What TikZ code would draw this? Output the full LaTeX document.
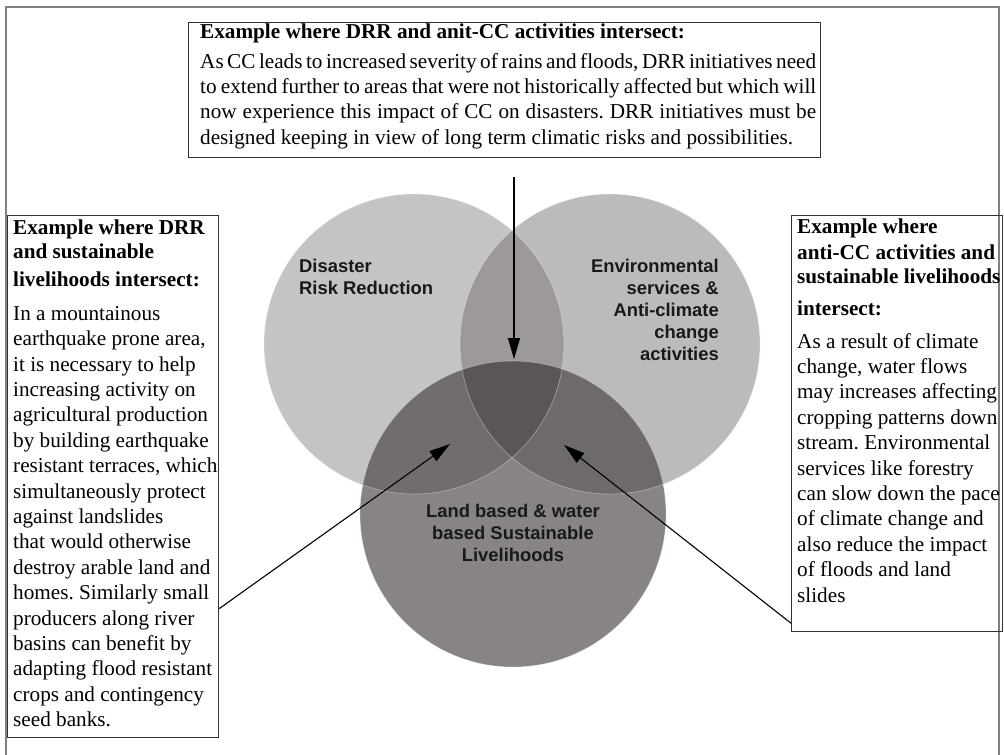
\documentclass[tikz,border=0pt]{standalone}
\usepackage{fontspec}
\setmainfont{Liberation Serif}
\setsansfont{Liberation Sans}
\usetikzlibrary{arrows.meta}

\definecolor{drrgray}{HTML}{C5C3C4}
\definecolor{envgray}{HTML}{BCBABB}
\definecolor{slgray}{HTML}{888485}
\definecolor{drrenvgray}{HTML}{9D999A}
\definecolor{drrslgray}{HTML}{716D6E}
\definecolor{envslgray}{HTML}{6E6A6B}
\definecolor{allgray}{HTML}{5B5556}

\newcommand{\boxfont}{\fontsize{21.2}{25.4}\selectfont}
\newcommand{\circfont}{\sffamily\bfseries\fontsize{18.4}{22}\selectfont}
\frenchspacing

\tikzset{
  frame/.style={draw=black!80, line width=1.2pt, anchor=north west, inner sep=0pt},
  boxtext/.style={anchor=north west, inner sep=0pt, align=left, font=\boxfont},
  circtext/.style={inner sep=0pt, text=black!90, font=\circfont},
  pointer/.style={-{Triangle[length=21pt,width=12pt]}, line width=1.1pt},
  rim/.style={draw=white, draw opacity=0.35, line width=0.7pt}
}

\begin{document}
\begin{tikzpicture}[x=1pt,y=-1pt]
\useasboundingbox (0,0) rectangle (1004,755);
\draw[black!50, line width=1.3pt] (6,755) -- (6,7) -- (999,7) -- (999,755);

\coordinate (drr) at (414,344);
\coordinate (env) at (610,344);
\coordinate (sl) at (513,514);

\fill[drrgray] (drr) circle[radius=150];
\fill[envgray] (env) circle[radius=150];
\fill[slgray] (sl) circle[radius=153];
\begin{scope}
  \clip (env) circle[radius=150];
  \fill[envslgray] (sl) circle[radius=153];
\end{scope}
\begin{scope}
  \clip (drr) circle[radius=150];
  \fill[drrenvgray] (env) circle[radius=150];
  \fill[drrslgray] (sl) circle[radius=153];
  \clip (env) circle[radius=150];
  \fill[allgray] (sl) circle[radius=153];
\end{scope}
\draw[rim] (drr) circle[radius=150];
\draw[rim] (env) circle[radius=150];
\draw[rim] (sl) circle[radius=153];

\node[circtext, anchor=north west, align=left] (drrlabel) at (299,259) {Disaster\\Risk Reduction};
\node[circtext, anchor=north east, align=right] (envlabel) at (719,259) {Environmental\\services \&\\Anti-climate\\change\\activities};
\node[circtext, anchor=north, align=center] (sllabel) at (513,504) {Land based \& water\\based Sustainable\\Livelihoods};

\node[frame, minimum width=632pt, minimum height=135pt] (topbox) at (188,22) {};
\node[boxtext, font=\boxfont\bfseries] (tophead) at (200,24) {Example where DRR and anit-CC activities intersect:};
\node[boxtext, text width=616pt, align=justify] (topbody) at (200,53) {\spaceskip=0.25em plus 0.1em minus 0.13em\relax
  As CC leads to increased severity of rains and floods, DRR initiatives need\linebreak
  to extend further to areas that were not historically affected but which will\linebreak
  now experience this impact of CC on disasters. DRR initiatives must be\linebreak
  designed keeping in view of long term climatic risks and possibilities.};

\node[frame, minimum width=211pt, minimum height=522pt] (leftbox) at (7,215) {};
\node[boxtext, font=\boxfont\bfseries] (lefthead) at (13,220) {Example where DRR\\[-2pt]and sustainable\\[3pt]livelihoods intersect:};
\node[boxtext] (leftbody) at (13,306) {In a mountainous\\earthquake prone area,\\it is necessary to help\\increasing activity on\\agricultural production\\by building earthquake\\resistant terraces, which\\simultaneously protect\\against landslides\\that would otherwise\\destroy arable land and\\homes. Similarly small\\producers along river\\basins can benefit by\\adapting flood resistant\\crops and contingency\\seed banks.};

\node[frame, minimum width=211pt, minimum height=416pt] (rightbox) at (791,215) {};
\node[boxtext, font=\boxfont\bfseries] (righthead) at (797,219) {Example where\\anti-CC activities and\\[-1pt]sustainable livelihoods\\[6pt]intersect:};
\node[boxtext] (rightbody) at (797,333) {As a result of climate\\change, water flows\\may increases affecting\\cropping patterns down\\stream. Environmental\\services like forestry\\can slow down the pace\\of climate change and\\also reduce the impact\\of floods and land\\slides};

\coordinate (toptip) at (514,359);
\coordinate (lefttip) at (450,444);
\coordinate (righttip) at (564,445);
\draw[pointer] ([yshift=-19pt]topbox.south -| toptip) -- (toptip);
\draw[pointer] ([yshift=-132pt]leftbox.east) -- (lefttip);
\draw[pointer] ([yshift=9pt]rightbox.south west) -- (righttip);
\end{tikzpicture}
\end{document}
